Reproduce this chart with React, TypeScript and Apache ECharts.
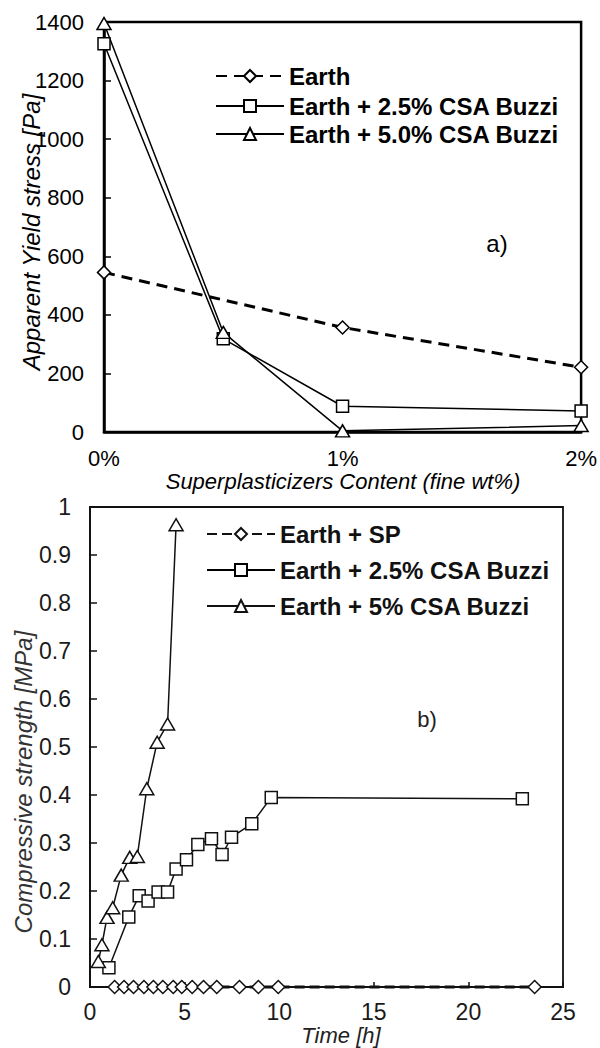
import React, { useEffect, useRef } from 'react';
import * as echarts from 'echarts';

const FONT = '"Liberation Sans", Arial, Helvetica, sans-serif';

// ---- Top chart (a) ----
const topXTicks = [0, 1, 2];
const topYMax = 1400;
const topNames = ['Earth', 'Earth + 2.5% CSA Buzzi', 'Earth + 5.0% CSA Buzzi'];
const earthTopX = [0, 1, 2];
const earthTopY = [545, 357, 221];
const csa25TopX = [0, 0.5, 1, 2];
const csa25TopY = [1326, 318, 88, 72];
const csa50TopX = [0, 0.5, 1, 2];
const csa50TopY = [1395, 340, 4, 22];

// ---- Bottom chart (b) ----
const botNames = ['Earth + SP', 'Earth + 2.5% CSA Buzzi', 'Earth + 5% CSA Buzzi'];
const earthSpX = [1.3, 1.8, 2.3, 2.85, 3.35, 3.85, 4.4, 4.85, 5.4, 6.0, 6.7, 7.9, 8.9, 9.95, 23.5];
const earthSpY = [0, 0, 0, 0, 0, 0, 0, 0, 0, 0, 0, 0, 0, 0, 0];
const csa25BotX = [1.0, 2.05, 2.6, 3.07, 3.6, 4.1, 4.55, 5.1, 5.7, 6.42, 6.98, 7.48, 8.55, 9.58, 22.85];
const csa25BotY = [0.04, 0.146, 0.19, 0.179, 0.198, 0.198, 0.246, 0.265, 0.297, 0.309, 0.276, 0.312, 0.34, 0.395, 0.392];
const csa5BotX = [0.44, 0.63, 0.9, 1.2, 1.65, 2.1, 2.5, 3.0, 3.55, 4.1, 4.55];
const csa5BotY = [0.053, 0.088, 0.145, 0.165, 0.233, 0.27, 0.272, 0.413, 0.51, 0.548, 0.963];

const zip = (xs: number[], ys: number[]) => xs.map((x, i) => [x, ys[i]]);

const markerStyle = { color: '#fff', borderColor: '#000', borderWidth: 1.5 };

function mkLegend(name: string, left: number, top: number, color: string) {
  return {
    data: [name],
    left,
    top,
    orient: 'horizontal',
    itemWidth: 68,
    itemHeight: 15,
    itemGap: 0,
    padding: 0,
    selectedMode: false,
    textStyle: { fontFamily: FONT, fontSize: 24, fontWeight: 'bold', color },
  };
}

export default function App() {
  const ref = useRef<HTMLDivElement>(null);
  useEffect(() => {
    if (!ref.current) return;
    const chart = echarts.init(ref.current, undefined, { renderer: 'svg' });
    const option: any = {
      animation: false,
      backgroundColor: '#fff',
      grid: [
        { left: 104, top: 22, width: 479, height: 410, show: true, borderColor: '#000', borderWidth: 2.5, backgroundColor: 'transparent' },
        { left: 90, top: 507, width: 473, height: 480, show: true, borderColor: '#111', borderWidth: 1.8, backgroundColor: 'transparent' },
      ],
      xAxis: [
        {
          gridIndex: 0, type: 'value', min: topXTicks[0], max: topXTicks[topXTicks.length - 1], interval: 1,
          axisLine: { show: true, lineStyle: { color: '#000', width: 2.5 } },
          axisTick: { show: true, inside: true, length: 5, lineStyle: { color: '#000', width: 1.5 } },
          splitLine: { show: false },
          axisLabel: { formatter: (v: number) => `${v}%`, margin: 15, fontFamily: FONT, fontSize: 22, color: '#000' },
        },
        {
          gridIndex: 1, type: 'value', min: 0, max: 25, interval: 5,
          axisLine: { show: true, lineStyle: { color: '#111', width: 1.8 } },
          axisTick: { show: true, inside: true, length: 5, lineStyle: { color: '#111', width: 1.5 } },
          splitLine: { show: false },
          axisLabel: { margin: 13, fontFamily: FONT, fontSize: 23, color: '#1a1a1a' },
        },
      ],
      yAxis: [
        {
          gridIndex: 0, type: 'value', min: 0, max: topYMax, interval: 200,
          axisLine: { show: true, lineStyle: { color: '#000', width: 2.5 } },
          axisTick: { show: true, inside: true, length: 7, lineStyle: { color: '#000', width: 1.5 } },
          splitLine: { show: false },
          axisLabel: { formatter: (v: number) => String(v), margin: 20, fontFamily: FONT, fontSize: 22, color: '#000' },
        },
        {
          gridIndex: 1, type: 'value', min: 0, max: 1, interval: 0.1,
          axisLine: { show: true, lineStyle: { color: '#111', width: 1.8 } },
          axisTick: { show: true, inside: true, length: 7, lineStyle: { color: '#111', width: 1.5 } },
          splitLine: { show: false },
          axisLabel: { formatter: (v: number) => String(Math.round(v * 10) / 10), margin: 19, fontFamily: FONT, fontSize: 23, color: '#1a1a1a' },
        },
      ],
      legend: [
        mkLegend(topNames[0], 215, 64, '#000'),
        mkLegend(topNames[1], 215, 94, '#000'),
        mkLegend(topNames[2], 215, 122, '#000'),
        mkLegend(botNames[0], 206, 522, '#111'),
        mkLegend(botNames[1], 206, 558, '#111'),
        mkLegend(botNames[2], 206, 594, '#111'),
      ],
      graphic: [
        { type: 'text', x: 31, y: 232, rotation: Math.PI / 2, style: { text: 'Apparent Yield stress [Pa]', font: `italic 24px ${FONT}`, fill: '#000', align: 'center', verticalAlign: 'middle' } },
        { type: 'text', x: 343, y: 481, style: { text: 'Superplasticizers Content (fine wt%)', font: `italic 22px ${FONT}`, fill: '#000', align: 'center', verticalAlign: 'middle' } },
        { type: 'text', x: 497, y: 243, style: { text: 'a)', font: `24px ${FONT}`, fill: '#000', align: 'center', verticalAlign: 'middle' } },
        { type: 'text', x: 23, y: 782, rotation: Math.PI / 2, style: { text: 'Compressive strength [MPa]', font: `italic 24px ${FONT}`, fill: '#333', align: 'center', verticalAlign: 'middle' } },
        { type: 'text', x: 341, y: 1035, style: { text: 'Time [h]', font: `italic 22px ${FONT}`, fill: '#222', align: 'center', verticalAlign: 'middle' } },
        { type: 'text', x: 427, y: 719, style: { text: 'b)', font: `22px ${FONT}`, fill: '#222', align: 'center', verticalAlign: 'middle' } },
      ],
      series: [
        {
          name: topNames[0], type: 'line', xAxisIndex: 0, yAxisIndex: 0, data: zip(earthTopX, earthTopY),
          symbol: 'diamond', symbolSize: 13, showAllSymbol: true,
          lineStyle: { color: '#000', width: 3, type: [11, 7] }, itemStyle: markerStyle,
        },
        {
          name: topNames[1], type: 'line', xAxisIndex: 0, yAxisIndex: 0, data: zip(csa25TopX, csa25TopY),
          symbol: 'rect', symbolSize: 12, showAllSymbol: true,
          lineStyle: { color: '#000', width: 1.5 }, itemStyle: markerStyle,
        },
        {
          name: topNames[2], type: 'line', xAxisIndex: 0, yAxisIndex: 0, data: zip(csa50TopX, csa50TopY),
          symbol: 'triangle', symbolSize: [14, 12], showAllSymbol: true, clip: false,
          lineStyle: { color: '#000', width: 1.5 }, itemStyle: markerStyle,
        },
        {
          name: botNames[0], type: 'line', xAxisIndex: 1, yAxisIndex: 1, data: zip(earthSpX, earthSpY),
          symbol: 'diamond', symbolSize: 13, showAllSymbol: true, clip: false,
          lineStyle: { color: '#111', width: 3, type: [10, 5] }, itemStyle: { ...markerStyle, borderColor: '#111' },
        },
        {
          name: botNames[1], type: 'line', xAxisIndex: 1, yAxisIndex: 1, data: zip(csa25BotX, csa25BotY),
          symbol: 'rect', symbolSize: 12, showAllSymbol: true,
          lineStyle: { color: '#111', width: 1.5 }, itemStyle: { ...markerStyle, borderColor: '#111' },
        },
        {
          name: botNames[2], type: 'line', xAxisIndex: 1, yAxisIndex: 1, data: zip(csa5BotX, csa5BotY),
          symbol: 'triangle', symbolSize: [14, 12], showAllSymbol: true,
          lineStyle: { color: '#111', width: 1.5 }, itemStyle: { ...markerStyle, borderColor: '#111' },
        },
      ],
    };
    chart.setOption(option);
    return () => chart.dispose();
  }, []);
  return <div ref={ref} style={{ position: 'fixed', left: 0, top: 0, width: 600, height: 1048, background: '#fff' }} />;
}
